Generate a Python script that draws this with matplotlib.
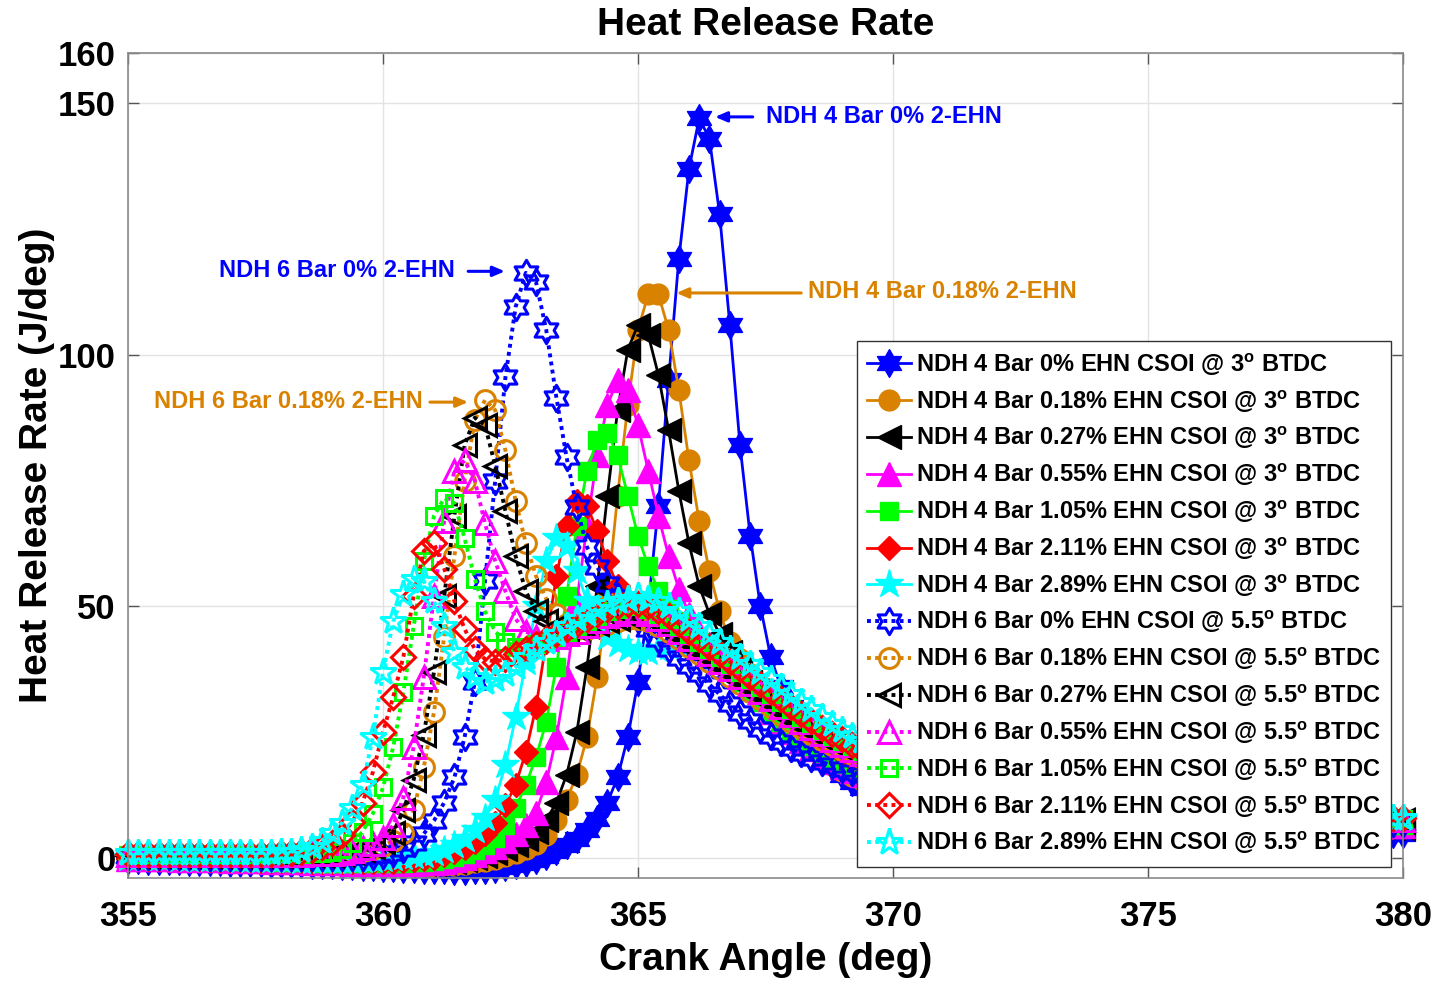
import numpy as np
import matplotlib
matplotlib.use('Agg')
import matplotlib.pyplot as plt
from matplotlib.path import Path

plt.rcParams['font.family'] = ['Liberation Sans', 'DejaVu Sans']
plt.rcParams['font.weight'] = 'bold'
plt.rcParams['mathtext.fontset'] = 'custom'
plt.rcParams['mathtext.rm'] = 'Liberation Sans:bold'
plt.rcParams['mathtext.it'] = 'Liberation Sans:bold'
plt.rcParams['mathtext.bf'] = 'Liberation Sans:bold'

# crank angle grid (deg), 0.2 deg resolution
crank_angle = np.round(np.linspace(355.0, 380.0, 126), 1)

# ---------------- NDH 4 bar, CSOI @ 3 deg BTDC ----------------
hrr_4bar_0 = [
    -0.5, -0.5, -0.6, -0.6, -0.7, -0.7, -0.8, -0.8, -0.9, -0.9,
    -1.0, -1.0, -1.1, -1.1, -1.2, -1.2, -1.3, -1.3, -1.4, -1.5,
    -1.5, -1.6, -1.7, -1.8, -1.9, -2.0, -2.1, -2.2, -2.3, -2.4,
    -2.5, -2.5, -2.6, -2.6, -2.5, -2.4, -2.2, -1.9, -1.5, -1.0,
    -0.4, 0.4, 1.4, 2.5, 3.8, 5.5, 7.8, 11.0, 16.0, 24.0,
    35.0, 50.0, 70.0, 95.0, 119.0, 137.0, 147.0, 143.0, 128.0, 106.0,
    82.0, 64.0, 50.0, 40.0, 34.0, 30.0, 26.5, 23.5, 21.0, 18.5,
    16.5, 15.0, 13.8, 13.0, 12.4, 11.9, 11.5, 11.1, 10.8, 10.5,
    10.2, 9.9, 9.7, 9.4, 9.2, 9.0, 8.8, 8.6, 8.4, 8.2,
    8.0, 7.9, 7.7, 7.6, 7.4, 7.3, 7.1, 7.0, 6.9, 6.8,
    6.6, 6.5, 6.4, 6.3, 6.2, 6.1, 6.0, 5.9, 5.8, 5.8,
    5.7, 5.6, 5.5, 5.5, 5.4, 5.3, 5.3, 5.2, 5.1, 5.1,
    5.0, 5.0, 4.9, 4.9, 4.8, 4.8]
hrr_4bar_018 = [
    -0.3, -0.3, -0.4, -0.4, -0.5, -0.5, -0.6, -0.6, -0.7, -0.7,
    -0.8, -0.8, -0.9, -0.9, -1.0, -1.0, -1.1, -1.1, -1.2, -1.2,
    -1.3, -1.3, -1.4, -1.4, -1.5, -1.5, -1.6, -1.6, -1.6, -1.6,
    -1.6, -1.5, -1.4, -1.2, -0.9, -0.6, -0.2, 0.3, 0.9, 1.7,
    2.8, 4.6, 7.5, 11.5, 16.5, 24.0, 36.0, 52.0, 72.0, 90.0,
    105.0, 112.0, 112.0, 105.0, 93.0, 79.0, 67.0, 57.0, 49.0, 43.0,
    39.5, 36.5, 33.5, 31.0, 28.5, 26.0, 24.0, 22.0, 20.0, 18.5,
    17.2, 16.2, 15.4, 14.8, 14.2, 13.8, 13.4, 13.0, 12.6, 12.3,
    12.0, 11.7, 11.4, 11.1, 10.9, 10.6, 10.4, 10.2, 10.0, 9.8,
    9.6, 9.4, 9.2, 9.1, 8.9, 8.8, 8.6, 8.5, 8.3, 8.2,
    8.1, 7.9, 7.8, 7.7, 7.6, 7.5, 7.4, 7.3, 7.2, 7.1,
    7.0, 6.9, 6.8, 6.7, 6.6, 6.6, 6.5, 6.4, 6.3, 6.3,
    6.2, 6.1, 6.1, 6.0, 5.9, 5.9]
hrr_4bar_027 = [
    -0.3, -0.3, -0.3, -0.4, -0.4, -0.4, -0.5, -0.5, -0.6, -0.6,
    -0.7, -0.7, -0.8, -0.8, -0.9, -0.9, -1.0, -1.0, -1.1, -1.1,
    -1.2, -1.2, -1.3, -1.3, -1.4, -1.4, -1.4, -1.4, -1.4, -1.3,
    -1.2, -1.0, -0.8, -0.5, -0.1, 0.4, 1.0, 1.7, 2.6, 3.7,
    5.2, 7.5, 11.0, 16.5, 25.0, 38.0, 54.0, 72.0, 89.0, 101.0,
    106.0, 104.0, 96.0, 85.0, 73.0, 62.5, 54.0, 48.5, 44.5, 41.0,
    38.0, 35.0, 32.0, 29.5, 27.0, 25.0, 23.0, 21.3, 19.8, 18.6,
    17.6, 16.7, 15.9, 15.2, 14.6, 14.1, 13.6, 13.2, 12.8, 12.4,
    12.1, 11.8, 11.5, 11.2, 10.9, 10.7, 10.5, 10.3, 10.1, 9.9,
    9.7, 9.5, 9.3, 9.2, 9.0, 8.9, 8.7, 8.6, 8.4, 8.3,
    8.2, 8.0, 7.9, 7.8, 7.7, 7.6, 7.5, 7.4, 7.3, 7.2,
    7.1, 7.0, 6.9, 6.8, 6.7, 6.6, 6.6, 6.5, 6.4, 6.3,
    6.3, 6.2, 6.1, 6.1, 6.0, 6.0]
hrr_4bar_055 = [
    -0.2, -0.2, -0.3, -0.3, -0.3, -0.4, -0.4, -0.4, -0.5, -0.5,
    -0.6, -0.6, -0.7, -0.7, -0.8, -0.8, -0.9, -0.9, -1.0, -1.0,
    -1.1, -1.1, -1.2, -1.2, -1.2, -1.3, -1.3, -1.3, -1.2, -1.1,
    -1.0, -0.8, -0.5, -0.1, 0.5, 1.3, 2.2, 3.3, 4.7, 6.5,
    9.0, 15.0, 24.0, 36.0, 51.0, 66.0, 80.0, 90.0, 95.0, 93.0,
    86.0, 77.0, 68.0, 60.0, 53.5, 48.5, 45.0, 42.5, 40.5, 38.5,
    36.5, 34.0, 31.5, 29.0, 27.0, 25.0, 23.3, 21.7, 20.3, 19.1,
    18.1, 17.2, 16.4, 15.7, 15.1, 14.5, 14.0, 13.5, 13.1, 12.7,
    12.4, 12.1, 11.8, 11.5, 11.2, 11.0, 10.8, 10.6, 10.4, 10.2,
    10.0, 9.8, 9.6, 9.5, 9.3, 9.2, 9.0, 8.9, 8.7, 8.6,
    8.5, 8.3, 8.2, 8.1, 8.0, 7.9, 7.8, 7.7, 7.6, 7.5,
    7.4, 7.3, 7.2, 7.1, 7.0, 6.9, 6.9, 6.8, 6.7, 6.6,
    6.6, 6.5, 6.4, 6.4, 6.3, 6.3]
hrr_4bar_105 = [
    -0.2, -0.2, -0.2, -0.3, -0.3, -0.3, -0.4, -0.4, -0.4, -0.5,
    -0.5, -0.6, -0.6, -0.7, -0.7, -0.8, -0.8, -0.9, -0.9, -1.0,
    -1.0, -1.0, -1.1, -1.1, -1.1, -1.1, -1.1, -1.0, -0.9, -0.8,
    -0.6, -0.3, 0.1, 0.7, 1.5, 2.5, 4.0, 6.5, 10.0, 14.5,
    20.0, 27.0, 38.0, 52.0, 66.0, 77.0, 83.0, 84.5, 80.0, 72.0,
    64.0, 58.0, 53.0, 49.5, 47.0, 45.0, 43.0, 41.0, 39.0, 37.0,
    35.0, 33.0, 31.0, 29.0, 27.0, 25.3, 23.7, 22.2, 20.9, 19.7,
    18.7, 17.8, 17.0, 16.3, 15.6, 15.0, 14.5, 14.0, 13.5, 13.1,
    12.7, 12.4, 12.1, 11.8, 11.5, 11.2, 11.0, 10.8, 10.6, 10.4,
    10.2, 10.0, 9.8, 9.7, 9.5, 9.4, 9.2, 9.1, 8.9, 8.8,
    8.7, 8.5, 8.4, 8.3, 8.2, 8.1, 8.0, 7.9, 7.8, 7.7,
    7.6, 7.5, 7.4, 7.3, 7.2, 7.1, 7.1, 7.0, 6.9, 6.8,
    6.8, 6.7, 6.6, 6.6, 6.5, 6.5]
hrr_4bar_211 = [
    -0.1, -0.1, -0.2, -0.2, -0.2, -0.3, -0.3, -0.3, -0.4, -0.4,
    -0.4, -0.5, -0.5, -0.6, -0.6, -0.7, -0.7, -0.7, -0.8, -0.8,
    -0.8, -0.9, -0.9, -0.9, -0.9, -0.9, -0.8, -0.7, -0.5, -0.3,
    0.0, 0.5, 1.1, 2.0, 3.2, 4.8, 7.0, 10.5, 14.5, 21.0,
    30.0, 43.0, 56.0, 66.0, 71.0, 70.0, 65.0, 59.0, 54.0, 51.0,
    49.0, 48.0, 47.5, 47.0, 46.0, 45.0, 43.5, 42.0, 40.5, 39.0,
    37.5, 36.0, 34.0, 32.0, 30.0, 28.0, 26.3, 24.7, 23.2, 21.9,
    20.7, 19.7, 18.8, 18.0, 17.3, 16.6, 16.0, 15.4, 14.9, 14.4,
    14.0, 13.6, 13.2, 12.8, 12.5, 12.2, 11.9, 11.6, 11.4, 11.1,
    10.9, 10.7, 10.5, 10.3, 10.1, 9.9, 9.8, 9.6, 9.5, 9.3,
    9.2, 9.0, 8.9, 8.8, 8.6, 8.5, 8.4, 8.3, 8.2, 8.1,
    8.0, 7.9, 7.8, 7.7, 7.6, 7.5, 7.4, 7.4, 7.3, 7.2,
    7.1, 7.1, 7.0, 6.9, 6.9, 6.8]
hrr_4bar_289 = [
    0.0, 0.0, -0.1, -0.1, -0.1, -0.2, -0.2, -0.2, -0.3, -0.3,
    -0.3, -0.4, -0.4, -0.4, -0.5, -0.5, -0.5, -0.6, -0.6, -0.6,
    -0.6, -0.6, -0.6, -0.5, -0.4, -0.3, -0.1, 0.1, 0.3, 0.6,
    0.9, 1.6, 2.5, 3.8, 5.5, 8.0, 11.5, 18.5, 28.0, 39.0,
    50.0, 59.0, 63.5, 62.0, 57.0, 51.0, 47.0, 44.0, 42.5, 41.5,
    41.0, 41.0, 41.5, 42.0, 42.5, 42.5, 42.0, 41.0, 40.0, 38.5,
    37.0, 35.5, 34.0, 32.5, 31.0, 29.5, 28.0, 26.6, 25.3, 24.0,
    22.8, 21.7, 20.7, 19.8, 18.9, 18.1, 17.4, 16.7, 16.1, 15.5,
    15.0, 14.5, 14.0, 13.6, 13.2, 12.8, 12.5, 12.2, 11.9, 11.6,
    11.3, 11.1, 10.9, 10.7, 10.5, 10.3, 10.1, 9.9, 9.8, 9.6,
    9.5, 9.3, 9.2, 9.1, 9.0, 8.9, 8.8, 8.7, 8.6, 8.5,
    8.4, 8.3, 8.3, 8.2, 8.1, 8.0, 8.0, 7.9, 7.8, 7.8,
    7.7, 7.7, 7.6, 7.6, 7.5, 7.5]

# ---------------- NDH 6 bar, CSOI @ 5.5 deg BTDC ----------------
hrr_6bar_0 = [
    0.3, 0.3, 0.3, 0.3, 0.3, 0.3, 0.3, 0.3, 0.2, 0.2,
    0.2, 0.2, 0.2, 0.2, 0.2, 0.2, 0.1, 0.1, 0.1, 0.1,
    0.1, 0.1, 0.1, 0.2, 0.3, 0.5, 1.0, 1.8, 3.0, 4.8,
    7.4, 11.0, 16.0, 24.0, 35.0, 55.0, 75.0, 95.5, 109.5, 116.3,
    114.5, 105.0, 91.5, 79.6, 69.7, 61.8, 57.8, 54.5, 51.8, 49.5,
    47.5, 45.5, 43.5, 41.5, 39.8, 38.2, 36.5, 34.5, 32.5, 30.5,
    28.8, 27.2, 25.7, 24.3, 23.0, 21.8, 20.8, 19.9, 19.1, 18.4,
    17.7, 17.1, 16.5, 16.0, 15.5, 15.0, 14.6, 14.2, 13.8, 13.4,
    13.0, 12.7, 12.4, 12.1, 11.8, 11.6, 11.3, 11.0, 10.8, 10.6,
    10.4, 10.2, 10.0, 9.8, 9.7, 9.5, 9.4, 9.2, 9.1, 9.0,
    8.9, 8.7, 8.6, 8.5, 8.4, 8.3, 8.2, 8.1, 8.0, 7.9,
    7.8, 7.8, 7.7, 7.6, 7.5, 7.5, 7.4, 7.3, 7.3, 7.2,
    7.1, 7.1, 7.0, 7.0, 6.9, 6.9]
hrr_6bar_018 = [
    0.5, 0.5, 0.5, 0.5, 0.5, 0.5, 0.5, 0.5, 0.5, 0.5,
    0.5, 0.5, 0.5, 0.5, 0.5, 0.5, 0.5, 0.5, 0.6, 0.6,
    0.7, 0.8, 1.0, 1.3, 1.8, 2.4, 3.4, 5.0, 9.5, 18.0,
    29.0, 44.0, 60.0, 75.0, 87.0, 91.0, 89.0, 81.0, 71.0, 62.5,
    56.0, 51.5, 48.5, 46.5, 45.5, 45.5, 46.0, 46.5, 47.0, 47.5,
    47.5, 47.0, 46.0, 45.0, 43.5, 42.0, 40.5, 39.0, 37.5, 36.0,
    34.5, 33.0, 31.5, 30.0, 28.5, 27.0, 25.8, 24.6, 23.5, 22.5,
    21.5, 20.6, 19.8, 19.0, 18.3, 17.6, 17.0, 16.4, 15.9, 15.4,
    14.9, 14.5, 14.1, 13.7, 13.3, 13.0, 12.7, 12.4, 12.1, 11.8,
    11.6, 11.3, 11.1, 10.9, 10.7, 10.5, 10.3, 10.1, 10.0, 9.8,
    9.7, 9.5, 9.4, 9.3, 9.1, 9.0, 8.9, 8.8, 8.7, 8.6,
    8.5, 8.4, 8.3, 8.2, 8.1, 8.1, 8.0, 7.9, 7.8, 7.8,
    7.7, 7.6, 7.6, 7.5, 7.5, 7.4]
hrr_6bar_027 = [
    0.4, 0.4, 0.4, 0.4, 0.4, 0.4, 0.4, 0.4, 0.4, 0.4,
    0.4, 0.4, 0.4, 0.4, 0.4, 0.4, 0.4, 0.5, 0.5, 0.6,
    0.6, 0.8, 1.1, 1.5, 2.2, 3.2, 5.0, 9.5, 15.5, 24.5,
    37.0, 52.0, 68.0, 82.0, 87.5, 86.0, 78.0, 69.0, 60.0, 53.0,
    49.0, 47.0, 46.0, 45.5, 45.5, 46.0, 46.5, 47.0, 47.5, 48.0,
    48.0, 47.5, 46.5, 45.5, 44.0, 42.5, 41.0, 39.5, 38.0, 36.5,
    35.0, 33.5, 32.0, 30.5, 29.0, 27.5, 26.2, 25.0, 23.9, 22.8,
    21.8, 20.9, 20.0, 19.2, 18.5, 17.8, 17.2, 16.6, 16.1, 15.6,
    15.1, 14.6, 14.2, 13.8, 13.4, 13.1, 12.8, 12.5, 12.2, 11.9,
    11.7, 11.4, 11.2, 11.0, 10.8, 10.6, 10.4, 10.2, 10.1, 9.9,
    9.8, 9.6, 9.5, 9.4, 9.2, 9.1, 9.0, 8.9, 8.8, 8.7,
    8.6, 8.5, 8.4, 8.3, 8.2, 8.2, 8.1, 8.0, 7.9, 7.9,
    7.8, 7.7, 7.7, 7.6, 7.6, 7.5]
hrr_6bar_055 = [
    0.5, 0.5, 0.5, 0.5, 0.5, 0.5, 0.5, 0.5, 0.5, 0.5,
    0.5, 0.5, 0.5, 0.5, 0.6, 0.6, 0.6, 0.6, 0.7, 0.7,
    0.8, 1.0, 1.4, 2.0, 2.8, 4.0, 6.5, 12.0, 22.0, 36.0,
    52.0, 67.0, 77.0, 79.0, 75.0, 66.5, 59.0, 53.0, 47.5, 45.0,
    44.0, 43.5, 44.0, 44.5, 45.0, 46.0, 47.0, 48.0, 48.5, 49.0,
    49.0, 48.5, 47.5, 46.5, 45.0, 43.5, 42.0, 40.5, 39.0, 37.5,
    36.0, 34.5, 33.0, 31.5, 30.0, 28.5, 27.1, 25.8, 24.6, 23.5,
    22.5, 21.5, 20.6, 19.8, 19.0, 18.3, 17.6, 17.0, 16.4, 15.9,
    15.4, 14.9, 14.5, 14.1, 13.7, 13.3, 13.0, 12.7, 12.4, 12.1,
    11.9, 11.6, 11.4, 11.2, 11.0, 10.8, 10.6, 10.4, 10.2, 10.1,
    9.9, 9.8, 9.6, 9.5, 9.4, 9.2, 9.1, 9.0, 8.9, 8.8,
    8.7, 8.6, 8.5, 8.4, 8.3, 8.3, 8.2, 8.1, 8.0, 8.0,
    7.9, 7.8, 7.8, 7.7, 7.7, 7.6]
hrr_6bar_105 = [
    0.6, 0.6, 0.6, 0.6, 0.6, 0.6, 0.6, 0.6, 0.6, 0.6,
    0.6, 0.6, 0.6, 0.7, 0.7, 0.7, 0.8, 0.8, 0.9, 1.0,
    1.2, 1.8, 3.0, 5.2, 8.8, 14.0, 22.0, 33.0, 46.0, 59.0,
    68.0, 71.5, 70.5, 63.5, 55.5, 49.0, 45.0, 43.0, 42.0, 42.0,
    42.5, 43.0, 44.0, 45.0, 46.0, 47.0, 48.0, 49.0, 49.5, 50.0,
    50.0, 49.5, 48.5, 47.5, 46.0, 44.5, 43.0, 41.5, 40.0, 38.5,
    37.0, 35.5, 34.0, 32.5, 31.0, 29.5, 28.1, 26.8, 25.5, 24.3,
    23.2, 22.2, 21.2, 20.3, 19.5, 18.7, 18.0, 17.4, 16.8, 16.2,
    15.7, 15.2, 14.8, 14.4, 14.0, 13.6, 13.3, 13.0, 12.7, 12.4,
    12.1, 11.9, 11.6, 11.4, 11.2, 11.0, 10.8, 10.6, 10.4, 10.3,
    10.1, 10.0, 9.8, 9.7, 9.5, 9.4, 9.3, 9.2, 9.1, 9.0,
    8.9, 8.8, 8.7, 8.6, 8.5, 8.4, 8.4, 8.3, 8.2, 8.1,
    8.1, 8.0, 8.0, 7.9, 7.9, 7.8]
hrr_6bar_211 = [
    0.7, 0.7, 0.7, 0.7, 0.7, 0.7, 0.7, 0.7, 0.7, 0.7,
    0.7, 0.7, 0.8, 0.8, 0.8, 0.9, 1.0, 1.2, 1.5, 2.1,
    3.0, 4.6, 7.2, 11.0, 17.0, 25.0, 32.0, 40.0, 52.0, 61.0,
    62.5, 57.5, 51.0, 45.5, 41.5, 39.5, 39.0, 39.5, 40.5, 41.5,
    42.5, 43.5, 44.5, 45.5, 46.5, 47.5, 48.5, 49.5, 50.0, 50.5,
    50.5, 50.0, 49.0, 48.0, 46.5, 45.0, 43.5, 42.0, 40.5, 39.0,
    37.5, 36.0, 34.5, 33.0, 31.5, 30.0, 28.6, 27.2, 25.9, 24.7,
    23.6, 22.5, 21.5, 20.6, 19.8, 19.0, 18.3, 17.6, 17.0, 16.4,
    15.9, 15.4, 15.0, 14.6, 14.2, 13.8, 13.5, 13.2, 12.9, 12.6,
    12.3, 12.0, 11.8, 11.6, 11.4, 11.2, 11.0, 10.8, 10.6, 10.4,
    10.3, 10.1, 10.0, 9.8, 9.7, 9.6, 9.5, 9.3, 9.2, 9.1,
    9.0, 8.9, 8.8, 8.7, 8.7, 8.6, 8.5, 8.4, 8.4, 8.3,
    8.2, 8.2, 8.1, 8.1, 8.0, 8.0]
hrr_6bar_289 = [
    0.9, 0.9, 0.9, 0.9, 0.9, 0.9, 0.9, 0.9, 0.9, 0.9,
    0.9, 0.9, 1.0, 1.0, 1.0, 1.1, 1.2, 1.5, 2.2, 3.3,
    5.0, 7.0, 10.0, 14.5, 24.0, 37.0, 47.0, 52.5, 55.5, 55.0,
    51.0, 46.0, 41.0, 38.0, 36.0, 35.0, 35.5, 36.5, 38.0, 40.0,
    41.5, 43.0, 44.5, 46.0, 47.5, 48.5, 49.5, 50.5, 51.0, 51.5,
    52.0, 51.5, 51.0, 50.0, 49.0, 47.5, 46.0, 44.5, 43.0, 41.5,
    40.0, 38.5, 37.0, 35.5, 34.0, 32.5, 31.0, 29.5, 28.0, 26.7,
    25.5, 24.3, 23.2, 22.2, 21.2, 20.3, 19.5, 18.7, 18.0, 17.3,
    16.7, 16.1, 15.6, 15.1, 14.6, 14.2, 13.8, 13.4, 13.0, 12.7,
    12.4, 12.1, 11.8, 11.6, 11.3, 11.1, 10.9, 10.7, 10.5, 10.3,
    10.2, 10.0, 9.9, 9.7, 9.6, 9.5, 9.3, 9.2, 9.1, 9.0,
    8.9, 8.8, 8.7, 8.6, 8.5, 8.5, 8.4, 8.3, 8.3, 8.2,
    8.1, 8.1, 8.0, 8.0, 7.9, 7.9]

series_labels = [
    'NDH 4 Bar 0% EHN CSOI @ 3$^{o}$ BTDC',
    'NDH 4 Bar 0.18% EHN CSOI @ 3$^{o}$ BTDC',
    'NDH 4 Bar 0.27% EHN CSOI @ 3$^{o}$ BTDC',
    'NDH 4 Bar 0.55% EHN CSOI @ 3$^{o}$ BTDC',
    'NDH 4 Bar 1.05% EHN CSOI @ 3$^{o}$ BTDC',
    'NDH 4 Bar 2.11% EHN CSOI @ 3$^{o}$ BTDC',
    'NDH 4 Bar 2.89% EHN CSOI @ 3$^{o}$ BTDC',
    'NDH 6 Bar 0% EHN CSOI @ 5.5$^{o}$ BTDC',
    'NDH 6 Bar 0.18% EHN CSOI @ 5.5$^{o}$ BTDC',
    'NDH 6 Bar 0.27% EHN CSOI @ 5.5$^{o}$ BTDC',
    'NDH 6 Bar 0.55% EHN CSOI @ 5.5$^{o}$ BTDC',
    'NDH 6 Bar 1.05% EHN CSOI @ 5.5$^{o}$ BTDC',
    'NDH 6 Bar 2.11% EHN CSOI @ 5.5$^{o}$ BTDC',
    'NDH 6 Bar 2.89% EHN CSOI @ 5.5$^{o}$ BTDC',
]

annotation_texts = ['NDH 4 Bar 0% 2-EHN', 'NDH 6 Bar 0% 2-EHN',
                    'NDH 4 Bar 0.18% 2-EHN', 'NDH 6 Bar 0.18% 2-EHN']

x_ticks = [355, 360, 365, 370, 375, 380]
y_ticks = [0, 50, 100, 150, 160]

# ---------------- styling ----------------
BLUE = '#0000FF'
ORANGE = '#D98200'
BLACK = '#000000'
MAGENTA = '#FF00FF'
GREEN = '#00FF00'
RED = '#FF0000'
CYAN = '#00FFFF'

hexagram = Path.unit_regular_star(6, 0.577)

series_data = [hrr_4bar_0, hrr_4bar_018, hrr_4bar_027, hrr_4bar_055,
               hrr_4bar_105, hrr_4bar_211, hrr_4bar_289,
               hrr_6bar_0, hrr_6bar_018, hrr_6bar_027, hrr_6bar_055,
               hrr_6bar_105, hrr_6bar_211, hrr_6bar_289]
series_colors = [BLUE, ORANGE, BLACK, MAGENTA, GREEN, RED, CYAN] * 2
series_markers = [hexagram, 'o', '<', '^', 's', 'D', '*'] * 2
marker_sizes = {'o': 15, '<': 17, '^': 17, 's': 12.5, 'D': 12.5, '*': 21}

fig = plt.figure(figsize=(14.39, 9.86), dpi=100)
ax = fig.add_axes([128 / 1439, 1 - 878 / 986, 1275 / 1439, 825 / 986])

for i, (yv, col, mk, lab) in enumerate(zip(series_data, series_colors,
                                            series_markers, series_labels)):
    ms = marker_sizes.get(mk, 20) if isinstance(mk, str) else 20
    if i < 7:
        ax.plot(crank_angle, yv, linestyle='-', linewidth=2.0, color=col,
                marker=mk, markersize=ms, markerfacecolor=col,
                markeredgecolor=col, markeredgewidth=1.0, label=lab,
                clip_on=False)
    else:
        ax.plot(crank_angle, yv, linestyle=(0, (1, 1.1)), linewidth=2.8,
                color=col, marker=mk, markersize=ms * 0.95,
                markerfacecolor='none', markeredgecolor=col,
                markeredgewidth=2.2, label=lab, clip_on=False)

ax.set_xlim(355, 380)
ax.set_ylim(-4, 160)
ax.set_xticks(x_ticks)
ax.set_yticks(y_ticks)
ax.tick_params(axis='both', which='both', direction='in', length=8,
               width=1.0, color='#555555', labelsize=25, top=True,
               right=True)
ax.tick_params(axis='x', pad=16)
ax.tick_params(axis='y', pad=9)
for lbl in ax.get_xticklabels() + ax.get_yticklabels():
    lbl.set_fontweight('bold')
for sp in ax.spines.values():
    sp.set_color('#8a8a8a')
    sp.set_linewidth(1.2)
ax.grid(True, color='#e3e3e3', linewidth=1.0)
ax.set_axisbelow(True)

ax.set_title('Heat Release Rate', fontsize=28, fontweight='bold', pad=13)
ax.set_xlabel('Crank Angle (deg)', fontsize=28, fontweight='bold', labelpad=6)
ax.set_ylabel('Heat Release Rate (J/deg)', fontsize=28, fontweight='bold',
              labelpad=2)

leg = ax.legend(loc='lower right', bbox_to_anchor=(0.9906, 0.0133),
                prop={'weight': 'bold', 'size': 17},
                numpoints=1, handlelength=1.85, handletextpad=0.2,
                labelspacing=0.45, borderpad=0.45, borderaxespad=0.0,
                fancybox=False, framealpha=1.0, edgecolor='#333333')
leg.get_frame().set_linewidth(1.0)
leg.set_zorder(10)

arrow_kw = dict(arrowstyle='-|>,head_length=0.7,head_width=0.3', lw=2.2,
                shrinkA=0, shrinkB=0)
ax.annotate('', xy=(366.51, 147.3), xytext=(367.25, 147.3),
            arrowprops=dict(color=BLUE, **arrow_kw))
ax.text(367.50, 147.3, annotation_texts[0], color=BLUE, fontsize=17,
        fontweight='bold', ha='left', va='center')
ax.annotate('', xy=(362.39, 116.6), xytext=(361.67, 116.6),
            arrowprops=dict(color=BLUE, **arrow_kw))
ax.text(361.40, 116.8, annotation_texts[1], color=BLUE, fontsize=17,
        fontweight='bold', ha='right', va='center')
ax.annotate('', xy=(365.75, 112.3), xytext=(368.20, 112.3),
            arrowprops=dict(color=ORANGE, **arrow_kw))
ax.text(368.33, 112.6, annotation_texts[2], color=ORANGE, fontsize=17,
        fontweight='bold', ha='left', va='center')
ax.annotate('', xy=(361.67, 90.6), xytext=(360.92, 90.6),
            arrowprops=dict(color=ORANGE, **arrow_kw))
ax.text(360.78, 90.7, annotation_texts[3], color=ORANGE, fontsize=17,
        fontweight='bold', ha='right', va='center')

fig.savefig('out.png', dpi=100)
